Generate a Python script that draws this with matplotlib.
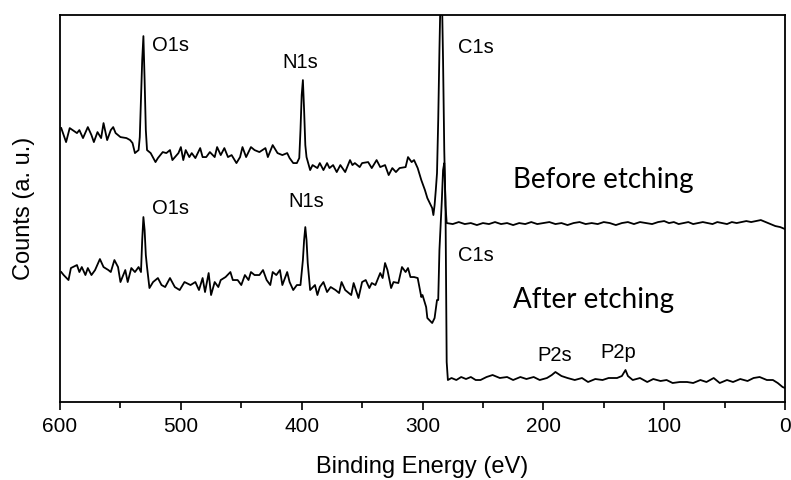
import numpy as np
import matplotlib.pyplot as plt
from matplotlib.ticker import MultipleLocator

# binding energy (eV) and counts (a.u.)
before_ev = [599, 595, 592, 586, 584, 581, 577, 574, 572, 569, 566, 564, 561, 558, 556, 554, 550, 545,
             542, 540, 538, 535, 534, 533, 532, 531, 530, 529, 528, 525, 521, 519, 515, 512, 509, 507,
             502, 500, 498, 496, 493, 491, 488, 484, 482, 479, 476, 472, 470, 467, 464, 461, 458, 454,
             451, 449, 446, 442, 439, 435, 430, 428, 424, 420, 416, 412, 410, 407, 404, 402, 401, 400,
             399, 398, 397, 396, 393, 391, 387, 385, 382, 379, 377, 374, 371, 368, 364, 360, 358, 356,
             352, 350, 345, 342, 338, 335, 331, 328, 325, 322, 319, 314, 312, 309, 307, 304, 301, 298,
             296, 292, 291, 290, 289, 288, 287, 286, 285, 284, 283, 282, 281, 280, 275, 270, 265, 260,
             255, 250, 245, 240, 235, 230, 225, 220, 215, 210, 205, 200, 195, 190, 185, 180, 175, 170,
             165, 160, 155, 150, 145, 140, 135, 130, 125, 120, 115, 110, 105, 100, 96, 92, 88, 84, 80,
             76, 72, 68, 64, 60, 56, 52, 48, 44, 40, 36, 32, 28, 24, 20, 16, 12, 8, 4, 0]
before_counts = [274, 260, 274, 269, 272, 264, 275, 267, 260, 270, 264, 279, 262, 272, 275, 269, 265, 264,
                 262, 259, 249, 252, 265, 302, 342, 366, 322, 272, 252, 249, 240, 244, 250, 249, 252, 242,
                 249, 255, 242, 252, 245, 249, 244, 254, 245, 245, 250, 245, 255, 247, 254, 245, 247, 239,
                 245, 255, 245, 255, 252, 250, 254, 245, 257, 249, 247, 249, 244, 239, 239, 244, 272, 307,
                 322, 292, 257, 245, 232, 237, 234, 239, 232, 239, 234, 237, 230, 237, 230, 242, 237, 239,
                 235, 239, 240, 234, 242, 235, 237, 227, 234, 230, 234, 235, 245, 240, 242, 234, 222, 212,
                 204, 194, 187, 197, 212, 229, 282, 352, 412, 412, 342, 252, 197, 179, 178, 180, 178, 179,
                 177, 179, 178, 180, 178, 179, 177, 179, 178, 180, 178, 179, 180, 178, 179, 177, 179, 180,
                 178, 179, 178, 180, 179, 177, 179, 180, 178, 180, 179, 178, 180, 181, 179, 180, 178, 179, 180,
                 178, 179, 180, 179, 178, 180, 179, 178, 180, 179, 180, 181, 180, 181, 182, 180, 178, 176, 175, 173]

after_ev = [599, 597, 593, 591, 586, 584, 582, 579, 577, 574, 571, 567, 564, 560, 558, 555, 552, 550,
            546, 544, 541, 538, 535, 533, 532, 531, 530, 529, 528, 526, 523, 519, 516, 513, 509, 505,
            501, 497, 492, 488, 485, 482, 480, 477, 475, 472, 469, 467, 463, 459, 457, 453, 450, 447,
            444, 442, 439, 435, 432, 429, 426, 424, 421, 418, 416, 412, 410, 407, 404, 401, 399, 398,
            397, 396, 395, 393, 389, 387, 385, 382, 379, 376, 372, 369, 367, 364, 359, 357, 353, 350,
            347, 344, 342, 339, 335, 333, 331, 329, 326, 324, 320, 317, 314, 312, 310, 307, 304, 301,
            300, 297, 296, 292, 290, 288, 287, 286, 284, 283, 282, 281, 280, 279, 276, 272, 268, 264,
            260, 256, 252, 247, 242, 236, 230, 225, 219, 214, 208, 203, 197, 193, 190, 185, 180, 174,
            168, 163, 157, 151, 146, 139, 135, 132, 130, 126, 120, 114, 109, 103, 98, 93, 87, 81, 76,
            70, 65, 59, 54, 48, 43, 37, 31, 26, 21, 15, 10, 6, 2, 0]
after_counts = [130, 127, 122, 134, 137, 130, 135, 127, 134, 127, 132, 143, 135, 132, 130, 142, 135, 120,
                132, 120, 134, 130, 135, 130, 162, 185, 172, 147, 135, 114, 120, 124, 117, 115, 124, 115,
                112, 120, 117, 120, 112, 124, 110, 129, 107, 120, 115, 122, 125, 130, 122, 122, 117, 127,
                122, 130, 127, 127, 132, 122, 117, 130, 127, 132, 117, 130, 120, 112, 117, 117, 142, 162,
                175, 162, 139, 112, 117, 107, 115, 120, 110, 115, 112, 109, 120, 112, 107, 119, 104, 120,
                122, 114, 119, 117, 129, 124, 139, 132, 114, 120, 119, 135, 130, 134, 125, 125, 124, 105,
                107, 95, 84, 79, 84, 102, 102, 152, 202, 232, 239, 200, 40, 22, 24, 22, 25, 23,
                25, 22, 22, 25, 27, 24, 25, 22, 25, 23, 25, 22, 24, 27, 30, 26, 24, 22,
                24, 20, 23, 22, 24, 24, 26, 32, 26, 22, 24, 20, 23, 21, 22, 19, 20, 20, 19,
                22, 20, 24, 19, 22, 20, 23, 21, 24, 25, 22, 22, 19, 15, 14]

# peak labels: (text, energy, counts)
peak_labels = [("O1s", 524, 357), ("N1s", 416, 340), ("C1s", 271, 355),
               ("O1s", 524, 194), ("N1s", 411, 201), ("C1s", 271, 147),
               ("P2s", 205, 47), ("P2p", 153, 50)]
state_labels = [("Before etching", 225, 222), ("After etching", 225, 102)]

fig = plt.figure(figsize=(7.91, 4.80), dpi=100)
ax = fig.add_axes([0.0759, 0.1625, 0.9165, 0.806])

ax.plot(before_ev, before_counts, color='black', lw=1.3)
ax.plot(after_ev, after_counts, color='black', lw=1.3)

for txt, x, y in peak_labels:
    ax.text(x, y, txt, fontsize=14.5, family='Liberation Sans', va='center', ha='left')
for txt, x, y in state_labels:
    ax.text(x, y, txt, fontsize=20, family='Lato', va='center', ha='left')

ax.set_xlim(600, 0)
ax.set_ylim(0, 387)
ax.set_yticks([])
ax.xaxis.set_major_locator(MultipleLocator(100))
ax.xaxis.set_minor_locator(MultipleLocator(50))
ax.tick_params(axis='x', which='major', direction='out', length=6, width=1.2, labelsize=15, pad=5)
ax.tick_params(axis='x', which='minor', direction='out', length=4, width=1.2)
for lab in ax.get_xticklabels():
    lab.set_family('Liberation Sans')
for s in ax.spines.values():
    s.set_linewidth(1.3)

ax.set_xlabel("Binding Energy (eV)", fontsize=17, family='Liberation Sans', labelpad=14)
ax.set_ylabel("Counts (a. u.)", fontsize=17, family='Liberation Sans', labelpad=18)

fig.savefig("out.png", dpi=100)
